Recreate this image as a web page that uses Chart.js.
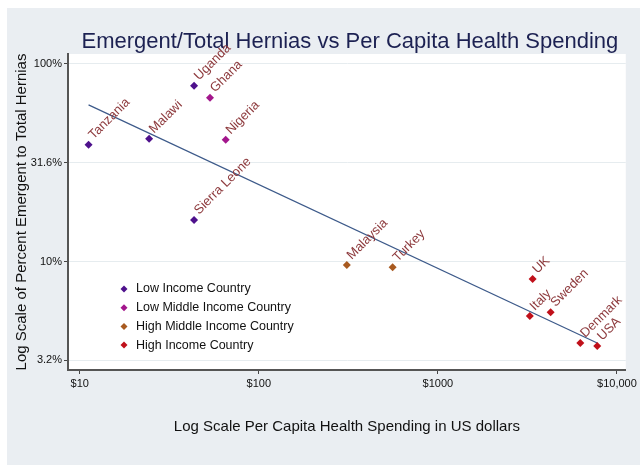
<!DOCTYPE html>
<html>
<head>
<meta charset="utf-8">
<script src="https://cdn.jsdelivr.net/npm/chart.js@4/dist/chart.umd.min.js"></script>
<style>
  html, body { margin: 0; padding: 0; background: #fff; }
  #wrap { width: 640px; height: 465px; position: relative; }
</style>
</head>
<body>
<div id="wrap"><canvas id="herniaChart" width="640" height="465"></canvas></div>
<script>
// values
const countries   = ['Tanzania', 'Malawi', 'Uganda', 'Ghana', 'Nigeria', 'Sierra Leone',
                     'Malaysia', 'Turkey', 'UK', 'Italy', 'Sweden', 'Denmark', 'USA'];
const spending    = [11.2, 24.4, 43.5, 53.4, 65.3, 43.5, 310, 559, 3380, 3260, 4260, 6240, 7760];
const emergentPct = [39, 41.8, 77.4, 67.3, 41.3, 16.3, 9.66, 9.4, 8.2, 5.33, 5.58, 3.9, 3.77];
const incomeGroup = [0, 0, 0, 1, 1, 0, 2, 2, 3, 3, 3, 3, 3];

const groupNames  = ['Low Income Country', 'Low Middle Income Country',
                     'High Middle Income Country', 'High Income Country'];
const groupColors = ['#4e118c', '#a3168c', '#a85a20', '#c0101a'];

// fitted line endpoints
const fitX = [11.2, 7760];
const fitY = [62, 3.9];

const xTickValues = [10, 100, 1000, 10000];
const xTickLabels = ['$10', '$100', '$1000', '$10,000'];
const yTickValues = [3.2, 10, 31.6, 100];
const yTickLabels = ['3.2%', '10%', '31.6%', '100%'];

const FONT = '"Liberation Sans", Arial, sans-serif';

const datasets = groupNames.map((name, g) => ({
    label: name,
    data: countries
        .map((c, i) => ({ x: spending[i], y: emergentPct[i], name: c, g: incomeGroup[i] }))
        .filter(p => p.g === g),
    backgroundColor: groupColors[g],
    borderColor: groupColors[g],
    pointStyle: 'rectRot',
    pointRadius: 4,
    pointBorderWidth: 0,
    showLine: false,
    order: 1
}));

datasets.push({
    label: 'Fitted',
    data: fitX.map((x, i) => ({ x: x, y: fitY[i] })),
    showLine: true,
    borderColor: '#3d5a8a',
    borderWidth: 1.2,
    pointRadius: 0,
    fill: false,
    order: 2
});

// background, title, country labels and legend
const decor = {
    id: 'decor',
    beforeDraw(chart) {
        const { ctx, chartArea: a } = chart;
        ctx.save();
        ctx.fillStyle = '#ffffff';
        ctx.fillRect(0, 0, chart.width, chart.height);
        ctx.fillStyle = '#eaeef2';
        ctx.fillRect(7, 8, chart.width - 7, chart.height - 8);
        ctx.fillStyle = '#ffffff';
        ctx.fillRect(a.left, a.top, a.right - a.left, a.bottom - a.top);
        ctx.restore();
    },
    afterDatasetsDraw(chart) {
        const { ctx, chartArea: a, scales } = chart;
        ctx.save();
        // title
        ctx.fillStyle = '#1c2152';
        ctx.font = '22px ' + FONT;
        ctx.textAlign = 'center';
        ctx.textBaseline = 'alphabetic';
        ctx.fillText('Emergent/Total Hernias vs Per Capita Health Spending', (a.left + a.right) / 2 + 3, 48);

        // country labels, rotated 45 degrees
        ctx.font = '13px ' + FONT;
        ctx.fillStyle = '#8e3b3e';
        ctx.textAlign = 'left';
        countries.forEach((c, i) => {
            const px = scales.x.getPixelForValue(spending[i]);
            const py = scales.y.getPixelForValue(emergentPct[i]);
            ctx.save();
            ctx.translate(px + 5, py - 5);
            ctx.rotate(-Math.PI / 4);
            ctx.fillText(c, 0, 0);
            ctx.restore();
        });

        // legend inside the plot
        ctx.font = '12.5px ' + FONT;
        ctx.textBaseline = 'middle';
        groupNames.forEach((name, g) => {
            const y = 289 + g * 18.7;
            const x = 124;
            ctx.fillStyle = groupColors[g];
            ctx.beginPath();
            ctx.moveTo(x, y - 3.5);
            ctx.lineTo(x + 3.5, y);
            ctx.lineTo(x, y + 3.5);
            ctx.lineTo(x - 3.5, y);
            ctx.closePath();
            ctx.fill();
            ctx.fillStyle = '#111111';
            ctx.fillText(name, x + 12, y);
        });
        ctx.restore();
    }
};

new Chart(document.getElementById('herniaChart'), {
    type: 'scatter',
    data: { datasets: datasets },
    options: {
        responsive: false,
        animation: false,
        layout: { padding: { left: 0, top: 54, right: 10, bottom: 0 } },
        plugins: {
            legend: { display: false },
            tooltip: { enabled: false },
            title: { display: false }
        },
        scales: {
            x: {
                type: 'logarithmic',
                min: 8.6,
                max: 11200,
                afterBuildTicks: s => { s.ticks = xTickValues.map(v => ({ value: v })); },
                afterFit: s => { s.height = 95; },
                ticks: {
                    callback: (v) => xTickLabels[xTickValues.indexOf(v)],
                    color: '#111',
                    font: { family: FONT, size: 11 },
                    padding: 3,
                    maxRotation: 0,
                    autoSkip: false
                },
                grid: { drawOnChartArea: false, tickColor: '#444', tickLength: 4 },
                border: { color: '#555', width: 2 },
                title: {
                    display: true,
                    text: 'Log Scale Per Capita Health Spending in US dollars',
                    color: '#111',
                    font: { family: FONT, size: 15 },
                    padding: { top: 0, bottom: 29 }
                }
            },
            y: {
                type: 'logarithmic',
                min: 2.85,
                max: 112,
                afterBuildTicks: s => { s.ticks = yTickValues.map(v => ({ value: v })); },
                afterFit: s => { s.width = 68; },
                ticks: {
                    callback: (v) => yTickLabels[yTickValues.indexOf(v)],
                    color: '#111',
                    font: { family: FONT, size: 11 },
                    padding: 2,
                    autoSkip: false
                },
                grid: { color: '#e6ecef', tickColor: '#444', tickLength: 4 },
                border: { color: '#555', width: 2 },
                title: {
                    display: true,
                    text: 'Log Scale of Percent Emergent to Total Hernias',
                    color: '#111',
                    font: { family: FONT, size: 15 },
                    padding: { top: 13, bottom: 0 }
                }
            }
        }
    },
    plugins: [decor]
});
</script>
</body>
</html>
